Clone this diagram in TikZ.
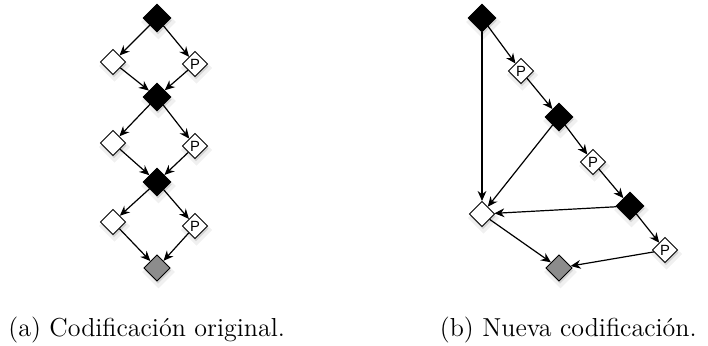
\documentclass[tikz,border=0pt]{standalone}
\usepackage{fontspec}
\newfontfamily\labelfont{Liberation Sans}
\usetikzlibrary{shapes.geometric,arrows.meta,shadows}
\begin{document}
\begin{tikzpicture}[x=0.5pt,y=-0.5pt,
  gem/.style={diamond,draw=black,line width=0.45pt,inner sep=0pt,
    minimum width=12.6pt,minimum height=12.6pt,
    drop shadow={opacity=0.12,shadow scale=1.25,shadow xshift=0.6pt,shadow yshift=-1.6pt},
    drop shadow={opacity=0.25,shadow xshift=0.5pt,shadow yshift=-1.3pt}},
  blackgem/.style={gem,fill=black,minimum width=14pt,minimum height=14pt},
  whitegem/.style={gem,fill=white},
  pgem/.style={gem,fill=white,font=\labelfont\fontsize{7.4}{8}\selectfont,text depth=0pt,text height=5.3pt},
  graygem/.style={gem,fill=black!45,minimum width=13.2pt,minimum height=13.2pt},
  link/.style={line width=0.6pt,-{Stealth[length=5pt,width=4.4pt]}},
  caption/.style={font=\fontsize{13}{15}\selectfont,inner sep=0pt}]
\useasboundingbox (0,0) rectangle (708,345);

% (a) original encoding: a ladder of choices
\node[blackgem] (t1) at (157,18) {};
\node[whitegem] (l1) at (113,62) {};
\node[pgem]     (r1) at (195,64) {P};
\node[blackgem] (t2) at (157,97) {};
\node[whitegem] (l2) at (113,143) {};
\node[pgem]     (r2) at (195,146) {P};
\node[blackgem] (t3) at (157,182) {};
\node[whitegem] (l3) at (113,222) {};
\node[pgem]     (r3) at (195,226) {P};
\node[graygem]  (ga) at (157,268) {};

\draw[link] (t1) -- (l1);
\draw[link] (t1) -- (r1);
\draw[link] (l1) -- (t2);
\draw[link] (r1) -- (t2);
\draw[link] (t2) -- (l2);
\draw[link] (t2) -- (r2);
\draw[link] (l2) -- (t3);
\draw[link] (r2) -- (t3);
\draw[link] (t3) -- (l3);
\draw[link] (t3) -- (r3);
\draw[link] (l3) -- (ga);
\draw[link] (r3) -- (ga);

% (b) new encoding: a chain with shortcuts to a shared node
\node[blackgem] (a)  at (482,18) {};
\node[pgem]     (p1) at (521,71) {P};
\node[blackgem] (b)  at (559,117) {};
\node[pgem]     (p2) at (593,162) {P};
\node[blackgem] (c)  at (630,206) {};
\node[pgem]     (p3) at (665,250) {P};
\node[whitegem] (w)  at (482,214) {};
\node[graygem]  (gb) at (559,268) {};

\draw[link] (a) -- (p1);
\draw[link] (p1) -- (b);
\draw[link] (b) -- (p2);
\draw[link] (p2) -- (c);
\draw[link] (c) -- (p3);
\draw[link] (a) -- (w);
\draw[link] (b) -- (w);
\draw[link] (c) -- (w);
\draw[link] (w) -- (gb);
\draw[link] (p3) -- (gb);

% captions
\node[caption,anchor=base west] (capa) at (8,336) {(a) Codificación original.};
\node[caption,anchor=base east] (capb) at (697,336) {(b) Nueva codificación.};
\end{tikzpicture}
\end{document}
